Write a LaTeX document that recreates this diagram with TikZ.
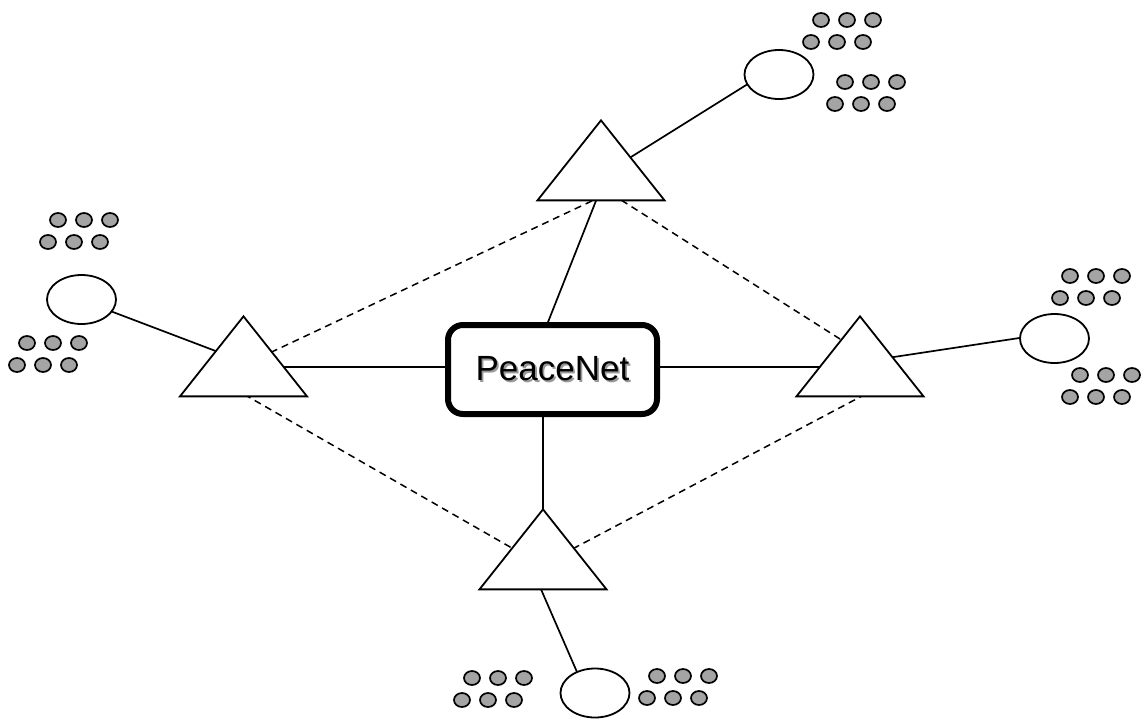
\documentclass[tikz,border=0pt]{standalone}
\usepackage{fontspec}
\newfontfamily\arialf{Liberation Sans}
\usetikzlibrary{shapes.geometric,backgrounds}
\definecolor{dotgray}{RGB}{164,164,164}
\tikzset{
  tri/.style={draw, fill=white, line width=1.8pt, isosceles triangle, isosceles triangle stretches,
    shape border rotate=90, minimum width=127pt, minimum height=80pt, inner sep=0pt, anchor=apex},
  host/.style={draw, fill=white, ellipse, line width=1.8pt, minimum width=69pt, minimum height=49pt, inner sep=0pt},
  dot/.style={draw, fill=dotgray, ellipse, line width=1.7pt, minimum width=16pt, minimum height=14pt, inner sep=0pt},
  hub/.style={draw, fill=white, line width=6pt, rounded corners=15pt, minimum width=209pt, minimum height=89pt, inner sep=0pt},
  link/.style={line width=1.7pt},
  peer/.style={line width=1.5pt, dash pattern=on 7pt off 5pt},
}
\newcommand\dotsix[3]{%
  \foreach \i in {0,1,2}{%
    \node[dot] (#1a\i) at (#2+26*\i,#3) {};
    \node[dot] (#1b\i) at (#2-10+26*\i,#3+22) {};
  }%
}
\begin{document}
\begin{tikzpicture}[x=1pt,y=-1pt]
\useasboundingbox (0,0) rectangle (1141,718);
% hub
\node[hub] (box) at (552.5,369.5) {\arialf\fontsize{35pt}{40pt}\selectfont\makebox[0pt][l]{\hspace{1.8pt}\raisebox{-1.8pt}{\color{black!40}PeaceNet}}PeaceNet};
% triangles
\node[tri] (tT) at (601,118) {};
\node[tri] (tL) at (243.5,314) {};
\node[tri] (tR) at (860,314) {};
\node[tri] (tB) at (543,507) {};
% hosts
\node[host] (eT) at (779,74.5) {};
\node[host] (eL) at (81.5,299.5) {};
\node[host] (eR) at (1054.5,338.5) {};
\node[host] (eB) at (595,693) {};
% dot clusters
\dotsix{ta}{821}{20}
\dotsix{tb}{845}{82}
\dotsix{la}{58}{220}
\dotsix{lb}{27}{343}
\dotsix{ra}{1070}{276}
\dotsix{rb}{1080}{375}
\dotsix{ba}{472}{678}
\dotsix{bb}{657}{676}
\begin{scope}[on background layer]
% solid links
\draw[link] ([shift={(14,49)}]tT.apex) -- ([shift={(-24,5)}]eT.center);
\draw[link] ([shift={(1,67.6)}]tT.apex) -- ([shift={(-9,-36)}]box.center);
\draw[link] ([shift={(16,53)}]tL.apex) -- ([shift={(-92,-2.5)}]box.center);
\draw[link] ([shift={(92,-2.5)}]box.center) -- ([shift={(-20,53)}]tR.apex);
\draw[link] ([shift={(-9.5,30)}]box.center) -- ([shift={(0,20)}]tB.apex);
\draw[link] ([shift={(23.5,9.5)}]eL.center) -- ([shift={(-1.5,47)}]tL.apex);
\draw[link] ([shift={(-2.5,48.5)}]tR.apex) -- ([shift={(-22,-2.5)}]eR.center);
\draw[link] ([shift={(-10.4,63)}]tB.apex) -- ([shift={(-14.3,-12.5)}]eB.center);
% dashed peer links
\draw[peer] ([shift={(16.5,43.5)}]tL.apex) -- ([shift={(4.6,76.5)}]tT.apex);
\draw[peer] ([shift={(10.3,75.8)}]tT.apex) -- ([shift={(2.2,39.1)}]tR.apex);
\draw[peer] ([shift={(-9.6,74.5)}]tL.apex) -- ([shift={(-17.2,49)}]tB.apex);
\draw[peer] ([shift={(16.2,74.5)}]tR.apex) -- ([shift={(18,48)}]tB.apex);
\end{scope}
\end{tikzpicture}
\end{document}
